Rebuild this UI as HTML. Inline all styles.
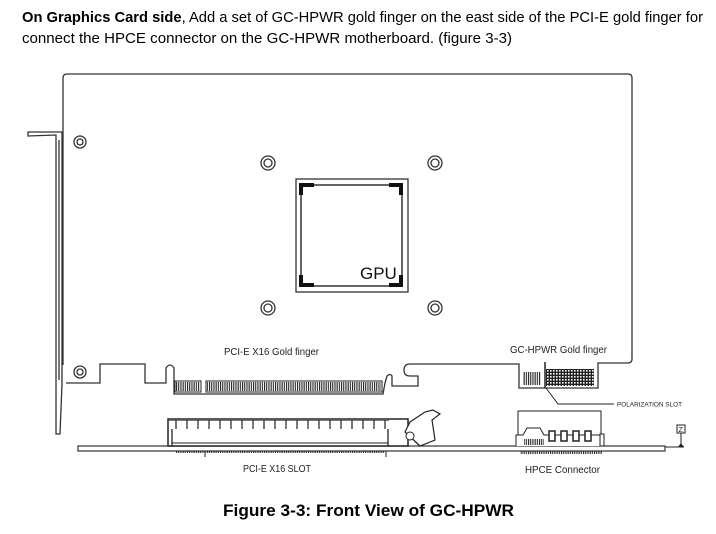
<!DOCTYPE html>
<html><head><meta charset="utf-8"><style>
html,body{margin:0;padding:0;background:#fff;}
svg{display:block;}
</style></head><body>
<svg width="716" height="534" viewBox="0 0 716 534" xmlns="http://www.w3.org/2000/svg" font-family="'Liberation Sans',sans-serif">
<text x="22" y="22" font-size="15" textLength="681" lengthAdjust="spacingAndGlyphs" fill="#000"><tspan font-weight="bold">On Graphics Card side</tspan>, Add a set of GC-HPWR gold finger on the east side of the PCI-E gold finger for</text>
<text x="22" y="43" font-size="15" textLength="490" lengthAdjust="spacingAndGlyphs" fill="#000">connect the HPCE connector on the GC-HPWR motherboard. (figure 3-3)</text>

<g fill="none" stroke="#333" stroke-width="1.3">
<!-- card outline -->
<path d="M63,365 L63,78 Q63,74 67,74 L628,74 Q632,74 632,78 L632,359 Q632,363 628,363 L598,363 L598,388 L519,388 L519,364 L410,364 Q404,364 404,370 Q404,376 410,376 L418,376 L418,386 L392,386 L392,376 Q390,373 387,376 L385,383 L383,394 L174,394 L174,383 L174,368 Q170,362 166,368 L166,383 L145,383 L145,364 L100,364 L100,383 L66,383"/>
<!-- bracket -->
<path d="M28,132 L28,136 L56,135 L56,434 L60,434 L62,384 L62,132 Z"/>
<line x1="59" y1="140" x2="59" y2="380"/>
<circle cx="80" cy="142" r="6"/><circle cx="80" cy="142" r="3"/>
<circle cx="80" cy="372" r="6"/><circle cx="80" cy="372" r="3"/>
<!-- mounting holes -->
<circle cx="268" cy="163" r="7"/><circle cx="268" cy="163" r="4"/>
<circle cx="435" cy="163" r="7"/><circle cx="435" cy="163" r="4"/>
<circle cx="268" cy="308" r="7"/><circle cx="268" cy="308" r="4"/>
<circle cx="435" cy="308" r="7"/><circle cx="435" cy="308" r="4"/>
<!-- GPU -->
<rect x="296" y="179" width="112" height="113"/>
<rect x="301" y="185" width="101" height="101" stroke-width="1.5"/>
</g>
<g fill="#111">
<rect x="299" y="183" width="15" height="4"/><rect x="299" y="183" width="4" height="12"/>
<rect x="389" y="183" width="14" height="4"/><rect x="399" y="183" width="4" height="12"/>
<rect x="299" y="283" width="15" height="4"/><rect x="299" y="275" width="4" height="12"/>
<rect x="389" y="283" width="14" height="4"/><rect x="399" y="275" width="4" height="12"/>
</g>
<text x="360" y="279" font-size="17" fill="#111">GPU</text>

<!-- PCIe fingers -->
<rect x="175" y="381" width="26" height="11" fill="none" stroke="#222" stroke-width="1"/>
<rect x="206" y="381" width="176" height="11" fill="none" stroke="#222" stroke-width="1"/>
<rect x="176" y="382" width="24" height="9" fill="url(#h)"/>
<rect x="207" y="382" width="174" height="9" fill="url(#h)"/>
<defs>
<pattern id="h" width="2.2" height="10" patternUnits="userSpaceOnUse"><rect width="1.1" height="10" fill="#222"/></pattern>
<pattern id="g" width="3" height="3" patternUnits="userSpaceOnUse"><rect width="3" height="3" fill="#222"/><rect x="1" y="1" width="1.6" height="1.6" fill="#fff"/></pattern>
<pattern id="t" width="11" height="10" patternUnits="userSpaceOnUse"><rect width="11" height="10" fill="none" stroke="#222" stroke-width="1.2"/></pattern>
</defs>
<!-- GC-HPWR fingers -->
<rect x="523" y="372" width="18" height="13" fill="url(#h)"/>
<rect x="546" y="369" width="48" height="17" fill="url(#g)"/>
<line x1="545" y1="362" x2="545" y2="388" stroke="#222" stroke-width="1.5"/>
<path d="M546,388 L558,404 L614,404" fill="none" stroke="#222" stroke-width="1"/>
<text x="617" y="406.5" font-size="6.5" fill="#222" textLength="65" lengthAdjust="spacingAndGlyphs">POLARIZATION SLOT</text>

<!-- baseboard -->
<rect x="78" y="446" width="587" height="5" fill="#fff" stroke="#333" stroke-width="1.2"/>
<!-- PCIe slot -->
<rect x="168" y="419" width="240" height="27" fill="#fff" stroke="#222" stroke-width="1.5"/>
<rect x="169" y="420" width="220" height="9" fill="url(#t)"/>
<line x1="172" y1="429" x2="172" y2="446" stroke="#222" stroke-width="1.3"/>
<line x1="172" y1="443" x2="388" y2="443" stroke="#222" stroke-width="1"/>
<line x1="388" y1="429" x2="388" y2="446" stroke="#222" stroke-width="1.3"/>
<path d="M410,422 L425,412 L433,410 L440,414 L432,420 L435,440 L420,446 L405,432 Z" fill="#fff" stroke="#222" stroke-width="1.2"/>
<circle cx="410" cy="436" r="4" fill="#fff" stroke="#222"/>
<rect x="175" y="451" width="210" height="2" fill="url(#h)"/>
<line x1="205" y1="451" x2="205" y2="457" stroke="#222"/>
<line x1="386" y1="451" x2="386" y2="457" stroke="#222"/>

<!-- HPCE connector -->
<path d="M518,446 L518,411 L601,411 L601,446" fill="none" stroke="#222" stroke-width="1"/>
<path d="M516,446 L516,435 L523,435 L527,428 L540,428 L544,435 L601,435 L601,446" fill="#fff" stroke="#222" stroke-width="1"/>
<rect x="600" y="434" width="4" height="12" fill="#fff" stroke="#222"/>
<rect x="549" y="431" width="6" height="10" fill="#fff" stroke="#222" stroke-width="1.5"/>
<rect x="561" y="431" width="6" height="10" fill="#fff" stroke="#222" stroke-width="1.5"/>
<rect x="573" y="431" width="6" height="10" fill="#fff" stroke="#222" stroke-width="1.5"/>
<rect x="585" y="431" width="6" height="10" fill="#fff" stroke="#222" stroke-width="1.5"/>
<rect x="524" y="439" width="20" height="6" fill="url(#h)"/>
<rect x="520" y="451" width="82" height="3" fill="url(#h)"/>
<!-- Z marker -->
<line x1="665" y1="447" x2="684" y2="447" stroke="#222"/>
<line x1="681" y1="433" x2="681" y2="447" stroke="#222"/>
<path d="M678,447 L684,447 L681,443 Z" fill="#222"/>
<rect x="677" y="425" width="8" height="8" fill="#fff" stroke="#222"/>
<text x="678.5" y="432" font-size="7" fill="#222">Z</text>

<g font-size="10" fill="#222">
<text x="224" y="355" textLength="95" lengthAdjust="spacingAndGlyphs">PCI-E X16 Gold finger</text>
<text x="510" y="353" textLength="97" lengthAdjust="spacingAndGlyphs">GC-HPWR Gold finger</text>
<text x="243" y="472" textLength="68" lengthAdjust="spacingAndGlyphs">PCI-E X16 SLOT</text>
<text x="525" y="473" textLength="75" lengthAdjust="spacingAndGlyphs">HPCE Connector</text>
</g>
<text x="223" y="516" font-size="17" font-weight="bold" textLength="291" lengthAdjust="spacingAndGlyphs" fill="#000">Figure 3-3: Front View of GC-HPWR</text>
</svg>
</body></html>
